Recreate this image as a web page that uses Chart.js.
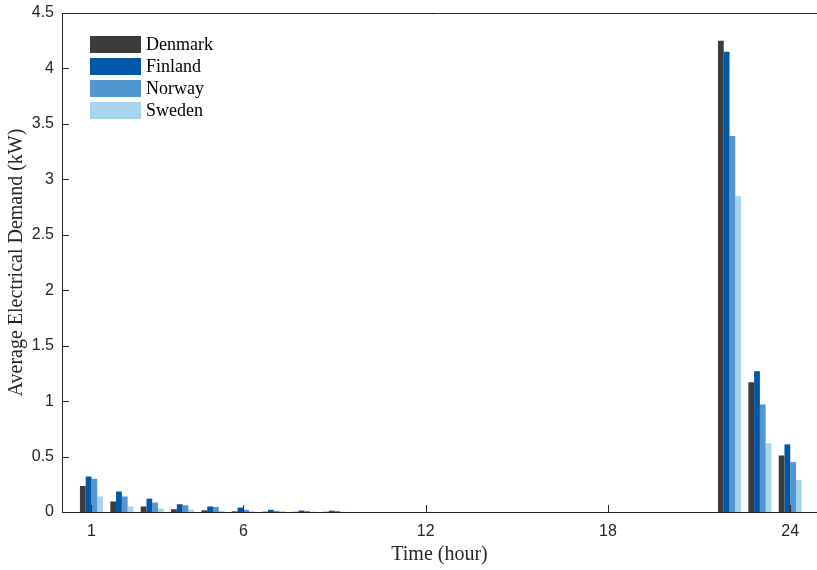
<!DOCTYPE html>
<html>
<head>
<meta charset="utf-8">
<title>Average Electrical Demand</title>
<script src="https://cdn.jsdelivr.net/npm/chart.js@4.4.0/dist/chart.umd.min.js"></script>
<style>
  body { margin: 0; background: #fff; }
  #chartBox { width: 817px; height: 570px; }
</style>
</head>
<body>
<div id="chartBox"><canvas id="demandChart" width="817" height="570"></canvas></div>
<script>
// Data
const hours = [1, 2, 3, 4, 5, 6, 7, 8, 9, 10, 11, 12, 13, 14, 15, 16, 17, 18, 19, 20, 21, 22, 23, 24];
const xTicks = [1, 6, 12, 18, 24];
const countries = ['Denmark', 'Finland', 'Norway', 'Sweden'];

const denmark = [0.235, 0.095, 0.05, 0.025, 0.015, 0.006, 0.003, 0.002, 0.002, 0, 0, 0, 0, 0, 0, 0, 0, 0, 0, 0, 0, 4.25, 1.17, 0.51];
const finland = [0.32, 0.185, 0.12, 0.07, 0.05, 0.04, 0.02, 0.013, 0.012, 0, 0, 0, 0, 0, 0, 0, 0, 0, 0, 0, 0, 4.15, 1.27, 0.61];
const norway = [0.3, 0.14, 0.085, 0.06, 0.045, 0.02, 0.01, 0.01, 0.01, 0, 0, 0, 0, 0, 0, 0, 0, 0, 0, 0, 0, 3.39, 0.97, 0.45];
const sweden = [0.14, 0.05, 0.03, 0.022, 0.012, 0.008, 0.008, 0.003, 0.002, 0, 0, 0, 0, 0, 0, 0, 0, 0, 0, 0, 0, 2.85, 0.62, 0.29];

const seriesValues = [denmark, finland, norway, sweden];
const colors = ['#3c3c3c', '#0057a7', '#5195d1', '#a8d5ee'];

const AXIS_COLOR = '#262626';
const SANS = '"Liberation Sans", Arial, sans-serif';
const SERIF = '"Liberation Serif", "Times New Roman", serif';

// Legend drawn inside the plot area, top left
const insideLegend = {
  id: 'insideLegend',
  afterDraw(chart) {
    const { ctx, chartArea } = chart;
    ctx.save();
    ctx.font = '18px ' + SERIF;
    ctx.textBaseline = 'middle';
    chart.data.datasets.forEach((ds, i) => {
      const x = chartArea.left + 28;
      const y = chartArea.top + 23 + i * 22;
      ctx.fillStyle = ds.backgroundColor;
      ctx.fillRect(x, y, 51, 17);
      ctx.fillStyle = '#000';
      ctx.fillText(ds.label, x + 56, y + 9);
    });
    ctx.restore();
  },
};

// Top box line and inward tick marks
const axisExtras = {
  id: 'axisExtras',
  afterDraw(chart) {
    const { ctx, chartArea, scales } = chart;
    ctx.save();
    ctx.strokeStyle = AXIS_COLOR;
    ctx.lineWidth = 1;
    ctx.beginPath();
    ctx.moveTo(chartArea.left, chartArea.top + 0.5);
    ctx.lineTo(chartArea.right, chartArea.top + 0.5);
    scales.x.ticks.forEach((t) => {
      const px = Math.round(scales.x.getPixelForValue(t.value)) + 0.5;
      ctx.moveTo(px, chartArea.bottom);
      ctx.lineTo(px, chartArea.bottom - 7);
    });
    scales.y.ticks.forEach((t) => {
      const py = Math.round(scales.y.getPixelForValue(t.value)) + 0.5;
      ctx.moveTo(chartArea.left, py);
      ctx.lineTo(chartArea.left + 7, py);
    });
    ctx.stroke();
    ctx.restore();
  },
};

const ctx = document.getElementById('demandChart').getContext('2d');

new Chart(ctx, {
  type: 'bar',
  data: {
    labels: hours,
    datasets: countries.map((name, i) => ({
      label: name,
      data: seriesValues[i],
      backgroundColor: colors[i],
      borderWidth: 0,
      categoryPercentage: 0.76,
      barPercentage: 1.0,
    })),
  },
  options: {
    responsive: false,
    animation: false,
    layout: {
      padding: { top: 13, right: 0, bottom: 0, left: 0 },
    },
    plugins: {
      legend: { display: false },
      tooltip: { enabled: false },
    },
    scales: {
      x: {
        type: 'linear',
        min: 0.03,
        max: 24.88,
        offset: false,
        afterBuildTicks: (scale) => {
          scale.ticks = xTicks.map((v) => ({ value: v }));
        },
        afterFit: (scale) => {
          scale.height = 58;
          scale.paddingLeft = 0;
          scale.paddingRight = 0;
        },
        grid: { display: false, drawTicks: false, offset: false },
        border: { color: AXIS_COLOR, width: 1 },
        ticks: {
          color: AXIS_COLOR,
          font: { family: SANS, size: 16 },
          padding: 10,
          maxRotation: 0,
          autoSkip: false,
          callback: (v) => String(v),
        },
        title: {
          display: true,
          text: 'Time (hour)',
          color: AXIS_COLOR,
          font: { family: SERIF, size: 20 },
          padding: { top: 0, bottom: 3 },
        },
      },
      y: {
        min: 0,
        max: 4.5,
        afterFit: (scale) => {
          scale.width = 62;
          scale.paddingTop = 0;
          scale.paddingBottom = 0;
        },
        grid: { display: false, drawTicks: false },
        border: { color: AXIS_COLOR, width: 1 },
        ticks: {
          stepSize: 0.5,
          color: AXIS_COLOR,
          font: { family: SANS, size: 16 },
          padding: 8,
          callback: (v) => String(v),
        },
        title: {
          display: true,
          text: 'Average Electrical Demand (kW)',
          color: AXIS_COLOR,
          font: { family: SERIF, size: 20 },
          padding: { top: 5, bottom: 0 },
        },
      },
    },
  },
  plugins: [insideLegend, axisExtras],
});
</script>
</body>
</html>
